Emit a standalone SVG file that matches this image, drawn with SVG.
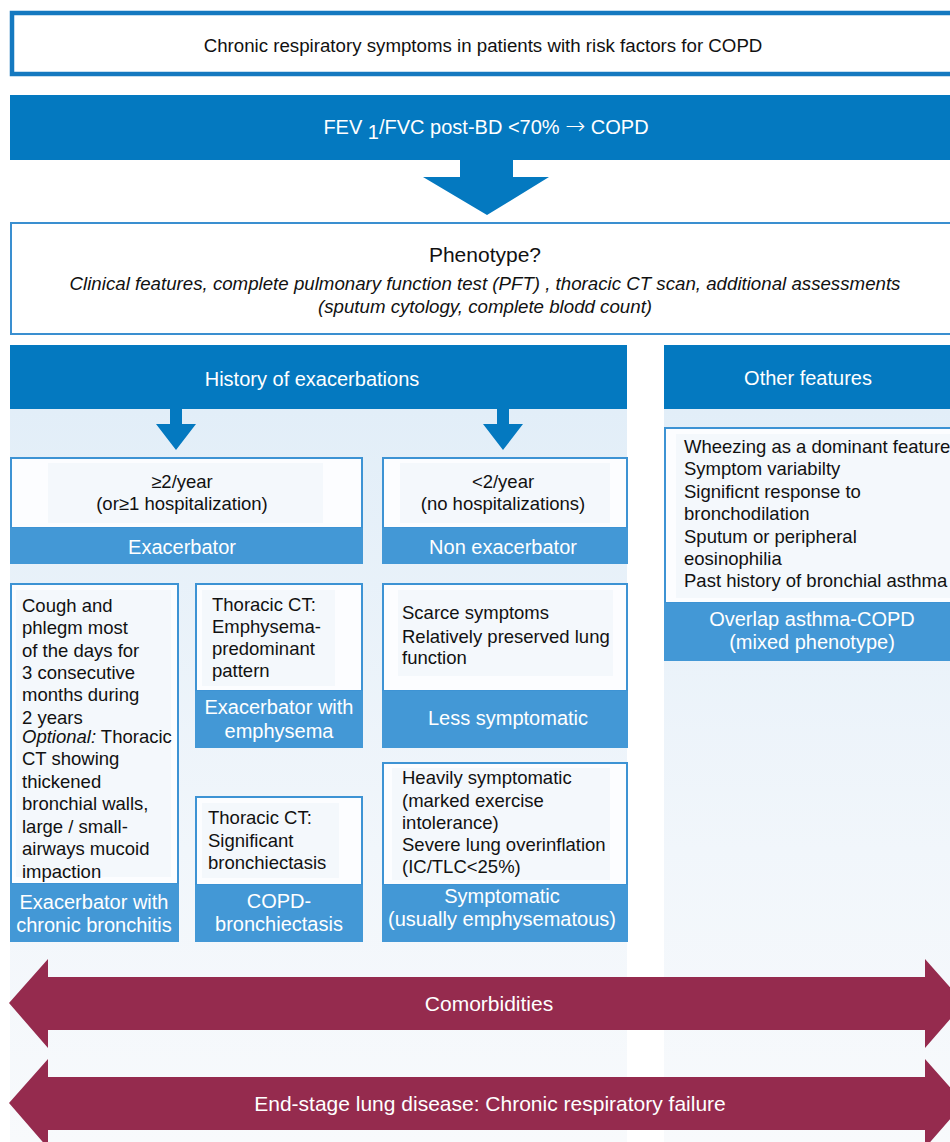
<svg xmlns="http://www.w3.org/2000/svg" width="950" height="1142" viewBox="0 0 950 1142">
<defs>
<linearGradient id="bg" x1="0" y1="0" x2="0" y2="1">
<stop offset="0" stop-color="#e2eef8"/>
<stop offset="0.6" stop-color="#f1f6fb"/>
<stop offset="1" stop-color="#f8fafc"/>
</linearGradient>
<style>
text{font-family:"Liberation Sans",Arial,sans-serif;}
.dark{fill:#0479c0;}
.bar{fill:#4398d6;}
.box{fill:#fcfdff;stroke:#3d93d4;stroke-width:2;}
.inner{fill:#f4f8fc;}
.w{fill:#ffffff;}
.k{fill:#111111;}
.c{text-anchor:middle;}
.s16{font-size:18.5px;}
.s17{font-size:18.5px;}
.s18{font-size:20px;}
.maroon{fill:#952b4e;}
.blue{fill:#0479c0;}
</style>
</defs>
<rect width="950" height="1142" fill="#ffffff"/>

<!-- background panels -->
<rect x="10" y="409" width="617" height="733" fill="url(#bg)"/>
<rect x="664" y="409" width="286" height="733" fill="url(#bg)"/>

<g id="n-top">
<rect x="12" y="13" width="950" height="61" fill="#ffffff" stroke="#1579c0" stroke-width="4.5"/>
<text x="483" y="52" class="c k" font-size="18.7">Chronic respiratory symptoms in patients with risk factors for COPD</text>
</g>

<g id="n-fev">
<rect x="10" y="95" width="940" height="65" class="dark"/>
<text x="486" y="134" class="c s18 w">FEV <tspan dy="5">1</tspan><tspan dy="-5">/FVC post-BD &lt;70% </tspan><tspan font-family="DejaVu Sans, sans-serif" font-size="24" font-weight="200">→</tspan> COPD</text>
</g>

<g id="n-pheno">
<rect x="11" y="223" width="945" height="111" fill="#ffffff" stroke="#3a8fd0" stroke-width="2"/>
<text x="485" y="262" class="c k" font-size="21">Phenotype?</text>
<text x="485" y="290" class="c k" font-size="18.7" font-style="italic">Clinical features, complete pulmonary function test (PFT) , thoracic CT scan, additional assessments</text>
<text x="485" y="313" class="c k" font-size="18.7" font-style="italic">(sputum cytology, complete blodd count)</text>
</g>

<g id="n-history">
<rect x="10" y="345" width="617" height="64" class="dark"/>
<text x="312" y="386" class="c s18 w">History of exacerbations</text>
</g>

<g id="n-other">
<rect x="664" y="345" width="286" height="64" class="dark"/>
<text x="808" y="385" class="c s18 w">Other features</text>
</g>

<g id="n-exac">
<rect x="11" y="458" width="351" height="70" class="box"/>
<rect x="48" y="463" width="275" height="60" class="inner"/>
<text x="182" y="488" class="c s16 k">≥2/year</text>
<text x="182" y="510" class="c s16 k">(or≥1 hospitalization)</text>
<rect x="10" y="528" width="353" height="36" class="bar"/>
<text x="182" y="554" class="c s18 w">Exacerbator</text>
</g>

<g id="n-nonexac">
<rect x="383" y="458" width="244" height="70" class="box"/>
<rect x="400" y="463" width="210" height="60" class="inner"/>
<text x="503" y="488" class="c s16 k">&lt;2/year</text>
<text x="503" y="510" class="c s16 k">(no hospitalizations)</text>
<rect x="382" y="528" width="246" height="36" class="bar"/>
<text x="503" y="554" class="c s18 w">Non exacerbator</text>
</g>

<g id="n-bronchitis">
<rect x="11" y="584" width="167" height="300" class="box"/>
<rect x="16" y="590" width="155" height="287" class="inner"/>
<g class="s17 k">
<text x="22" y="612">Cough and</text>
<text x="22" y="634">phlegm most</text>
<text x="22" y="657">of the days for</text>
<text x="22" y="679">3 consecutive</text>
<text x="22" y="701">months during</text>
<text x="22" y="724">2 years</text>
<text x="22" y="743"><tspan font-style="italic">Optional:</tspan> Thoracic</text>
<text x="22" y="765">CT showing</text>
<text x="22" y="788">thickened</text>
<text x="22" y="810">bronchial walls,</text>
<text x="22" y="833">large / small-</text>
<text x="22" y="855">airways mucoid</text>
<text x="22" y="878">impaction</text>
</g>
<rect x="10" y="884" width="169" height="58" class="bar"/>
<text x="94" y="909" class="c s18 w">Exacerbator with</text>
<text x="94" y="932" class="c s18 w">chronic bronchitis</text>
</g>

<g id="n-emphysema">
<rect x="196" y="584" width="166" height="107" class="box"/>
<rect x="202" y="590" width="133" height="96" class="inner"/>
<g class="s17 k">
<text x="212" y="611">Thoracic CT:</text>
<text x="212" y="633">Emphysema-</text>
<text x="212" y="655">predominant</text>
<text x="212" y="677">pattern</text>
</g>
<rect x="195" y="691" width="168" height="57" class="bar"/>
<text x="279" y="714" class="c s18 w">Exacerbator with</text>
<text x="279" y="738" class="c s18 w">emphysema</text>
</g>

<g id="n-bronchiectasis">
<rect x="196" y="797" width="166" height="88" class="box"/>
<rect x="202" y="803" width="137" height="75" class="inner"/>
<g class="s17 k">
<text x="208" y="824">Thoracic CT:</text>
<text x="208" y="847">Significant</text>
<text x="208" y="869">bronchiectasis</text>
</g>
<rect x="195" y="885" width="168" height="57" class="bar"/>
<text x="279" y="908" class="c s18 w">COPD-</text>
<text x="279" y="931" class="c s18 w">bronchiectasis</text>
</g>

<g id="n-less">
<rect x="383" y="584" width="244" height="107" class="box"/>
<rect x="398" y="590" width="215" height="86" class="inner"/>
<g class="s17 k">
<text x="402" y="619">Scarce symptoms</text>
<text x="402" y="643">Relatively preserved lung</text>
<text x="402" y="664">function</text>
</g>
<rect x="382" y="691" width="246" height="57" class="bar"/>
<text x="508" y="725" class="c s18 w">Less symptomatic</text>
</g>

<g id="n-symptomatic">
<rect x="383" y="763" width="244" height="122" class="box"/>
<rect x="392" y="768" width="218" height="112" class="inner"/>
<g class="s17 k">
<text x="402" y="784">Heavily symptomatic</text>
<text x="402" y="807">(marked exercise</text>
<text x="402" y="829">intolerance)</text>
<text x="402" y="851">Severe lung overinflation</text>
<text x="402" y="873">(IC/TLC&lt;25%)</text>
</g>
<rect x="382" y="885" width="246" height="57" class="bar"/>
<text x="502" y="903" class="c s18 w">Symptomatic</text>
<text x="502" y="926" class="c s18 w">(usually emphysematous)</text>
</g>

<g id="n-overlap">
<rect x="665" y="428" width="290" height="175" class="box"/>
<rect x="676" y="434" width="274" height="164" class="inner"/>
<g class="s17 k">
<text x="684" y="453">Wheezing as a dominant feature</text>
<text x="684" y="475">Symptom variabilty</text>
<text x="684" y="498">Significnt response to</text>
<text x="684" y="520">bronchodilation</text>
<text x="684" y="543">Sputum or peripheral</text>
<text x="684" y="565">eosinophilia</text>
<text x="684" y="587">Past history of bronchial asthma</text>
</g>
<rect x="664" y="603" width="286" height="58" class="bar"/>
<text x="812" y="626" class="c s18 w">Overlap asthma-COPD</text>
<text x="812" y="649" class="c s18 w">(mixed phenotype)</text>
</g>

<g id="n-comorbidities">
<polygon class="maroon" points="9,1003 48,959 48,977 925,977 925,959 964,1003 925,1048 925,1030 48,1030 48,1048"/>
<text x="489" y="1011" class="c w" font-size="21">Comorbidities</text>
</g>

<g id="n-endstage">
<polygon class="maroon" points="9,1103 48,1059 48,1077 925,1077 925,1059 964,1103 925,1148 925,1130 48,1130 48,1148"/>
<text x="490" y="1111" class="c w" font-size="21">End-stage lung disease: Chronic respiratory failure</text>
</g>

<g id="connectors">
<polygon class="blue" points="460,160 513,160 513,177 549,177 487,215 423,177 460,177"/>
<polygon class="blue" points="170,409 182,409 182,424 196,424 176,450 156,424 170,424"/>
<polygon class="blue" points="497,409 509,409 509,424 523,424 503,450 483,424 497,424"/>
</g>
</svg>
